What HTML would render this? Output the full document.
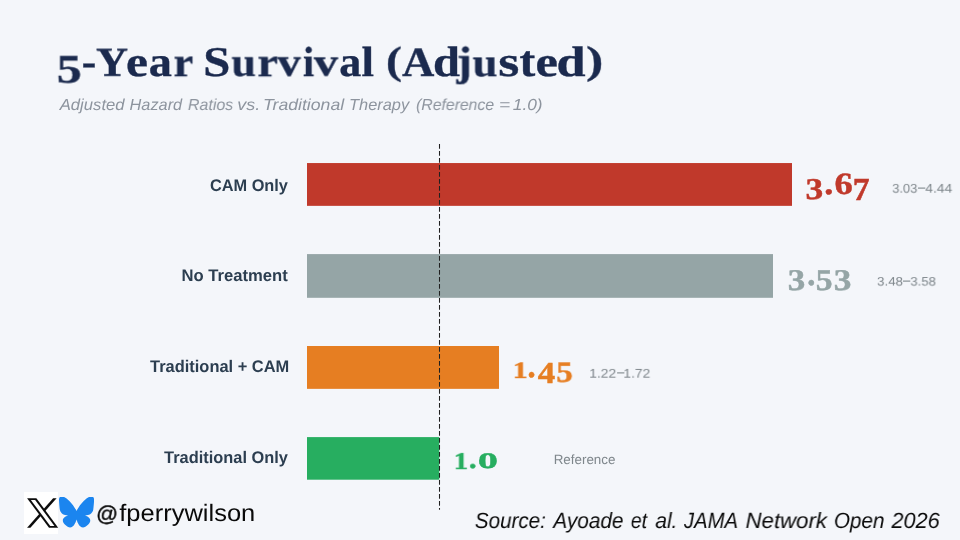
<!DOCTYPE html>
<html><head><meta charset="utf-8"><title>5-Year Survival (Adjusted)</title>
<style>
html,body{margin:0;padding:0}
body{width:960px;height:540px;overflow:hidden;background:#f4f6fa;position:relative;font-family:'Liberation Sans',sans-serif}
.t{position:absolute;white-space:pre;transform-origin:0 0;will-change:transform;text-rendering:geometricPrecision}
</style></head><body>

<div class="t" style="left:38px;top:25px;font-family:'Liberation Serif',serif;font-weight:bold;font-size:42px;line-height:42px;color:#1b2a4e;transform:translate(18.61px,24.81px) scale(1.1936,0.9628);-webkit-text-stroke:0.35px #1b2a4e">5</div>
<div class="t" style="left:62px;top:33px;font-family:'Liberation Serif',serif;font-weight:bold;font-size:42px;line-height:42px;color:#1b2a4e;transform:translate(19.68px,7.07px) scale(1.0352,1.0627);-webkit-text-stroke:0.35px #1b2a4e">-</div>
<div class="t" style="left:76px;top:18px;font-family:'Liberation Serif',serif;font-weight:bold;font-size:42px;line-height:42px;color:#1b2a4e;transform:translate(20.00px,24.53px) scale(1.0579,0.9782);-webkit-text-stroke:0.35px #1b2a4e">Y</div>
<div class="t" style="left:107px;top:25px;font-family:'Liberation Serif',serif;font-weight:bold;font-size:42px;line-height:42px;color:#1b2a4e;transform:translate(19.00px,16.15px) scale(1.1765,1.0198);-webkit-text-stroke:0.35px #1b2a4e">e</div>
<div class="t" style="left:130px;top:25px;font-family:'Liberation Serif',serif;font-weight:bold;font-size:42px;line-height:42px;color:#1b2a4e;transform:translate(18.78px,16.12px) scale(1.1025,1.0120);-webkit-text-stroke:0.35px #1b2a4e">a</div>
<div class="t" style="left:154px;top:26px;font-family:'Liberation Serif',serif;font-weight:bold;font-size:42px;line-height:42px;color:#1b2a4e;transform:translate(19.48px,16.65px) scale(1.0642,0.9835);-webkit-text-stroke:0.35px #1b2a4e">r</div>
<div class="t" style="left:185px;top:17px;font-family:'Liberation Serif',serif;font-weight:bold;font-size:42px;line-height:42px;color:#1b2a4e;transform:translate(18.33px,24.95px) scale(1.1573,1.0102);-webkit-text-stroke:0.35px #1b2a4e">S</div>
<div class="t" style="left:211px;top:26px;font-family:'Liberation Serif',serif;font-weight:bold;font-size:42px;line-height:42px;color:#1b2a4e;transform:translate(20.51px,17.32px) scale(1.0431,0.9553);-webkit-text-stroke:0.35px #1b2a4e">u</div>
<div class="t" style="left:238px;top:26px;font-family:'Liberation Serif',serif;font-weight:bold;font-size:42px;line-height:42px;color:#1b2a4e;transform:translate(19.33px,16.68px) scale(1.1104,0.9849);-webkit-text-stroke:0.35px #1b2a4e">r</div>
<div class="t" style="left:256px;top:27px;font-family:'Liberation Serif',serif;font-weight:bold;font-size:42px;line-height:42px;color:#1b2a4e;transform:translate(21.44px,16.38px) scale(1.1111,0.9504);-webkit-text-stroke:0.35px #1b2a4e">v</div>
<div class="t" style="left:283px;top:16px;font-family:'Liberation Serif',serif;font-weight:bold;font-size:42px;line-height:42px;color:#1b2a4e;transform:translate(19.94px,26.01px) scale(0.9583,1.0045);-webkit-text-stroke:0.35px #1b2a4e">i</div>
<div class="t" style="left:293px;top:27px;font-family:'Liberation Serif',serif;font-weight:bold;font-size:42px;line-height:42px;color:#1b2a4e;transform:translate(20.73px,16.91px) scale(1.1483,0.9282);-webkit-text-stroke:0.35px #1b2a4e">v</div>
<div class="t" style="left:319px;top:25px;font-family:'Liberation Serif',serif;font-weight:bold;font-size:42px;line-height:42px;color:#1b2a4e;transform:translate(20.24px,16.12px) scale(1.0487,1.0120);-webkit-text-stroke:0.35px #1b2a4e">a</div>
<div class="t" style="left:342px;top:16px;font-family:'Liberation Serif',serif;font-weight:bold;font-size:42px;line-height:42px;color:#1b2a4e;transform:translate(19.54px,26.30px) scale(1.0693,1.0055);-webkit-text-stroke:0.35px #1b2a4e">l</div>
<div class="t" style="left:367px;top:16px;font-family:'Liberation Serif',serif;font-weight:bold;font-size:42px;line-height:42px;color:#1b2a4e;transform:translate(18.93px,25.92px) scale(1.1451,0.9349);-webkit-text-stroke:0.35px #1b2a4e">(</div>
<div class="t" style="left:382px;top:18px;font-family:'Liberation Serif',serif;font-weight:bold;font-size:42px;line-height:42px;color:#1b2a4e;transform:translate(20.11px,24.32px) scale(1.0651,0.9878);-webkit-text-stroke:0.35px #1b2a4e">A</div>
<div class="t" style="left:414px;top:16px;font-family:'Liberation Serif',serif;font-weight:bold;font-size:42px;line-height:42px;color:#1b2a4e;transform:translate(18.98px,25.98px) scale(1.1548,1.0131);-webkit-text-stroke:0.35px #1b2a4e">d</div>
<div class="t" style="left:435px;top:16px;font-family:'Liberation Serif',serif;font-weight:bold;font-size:42px;line-height:42px;color:#1b2a4e;transform:translate(21.63px,25.64px) scale(1.0699,0.9926);-webkit-text-stroke:0.35px #1b2a4e">j</div>
<div class="t" style="left:452px;top:26px;font-family:'Liberation Serif',serif;font-weight:bold;font-size:42px;line-height:42px;color:#1b2a4e;transform:translate(20.64px,17.63px) scale(1.0656,0.9549);-webkit-text-stroke:0.35px #1b2a4e">u</div>
<div class="t" style="left:479px;top:25px;font-family:'Liberation Serif',serif;font-weight:bold;font-size:42px;line-height:42px;color:#1b2a4e;transform:translate(19.34px,16.27px) scale(1.2897,1.0183);-webkit-text-stroke:0.35px #1b2a4e">s</div>
<div class="t" style="left:499px;top:20px;font-family:'Liberation Serif',serif;font-weight:bold;font-size:42px;line-height:42px;color:#1b2a4e;transform:translate(20.60px,20.12px) scale(1.1255,1.0500);-webkit-text-stroke:0.35px #1b2a4e">t</div>
<div class="t" style="left:516px;top:25px;font-family:'Liberation Serif',serif;font-weight:bold;font-size:42px;line-height:42px;color:#1b2a4e;transform:translate(19.48px,16.17px) scale(1.2013,1.0170);-webkit-text-stroke:0.35px #1b2a4e">e</div>
<div class="t" style="left:538px;top:16px;font-family:'Liberation Serif',serif;font-weight:bold;font-size:42px;line-height:42px;color:#1b2a4e;transform:translate(18.46px,25.98px) scale(1.2449,1.0131);-webkit-text-stroke:0.35px #1b2a4e">d</div>
<div class="t" style="left:567px;top:16px;font-family:'Liberation Serif',serif;font-weight:bold;font-size:42px;line-height:42px;color:#1b2a4e;transform:translate(19.03px,25.57px) scale(1.2355,0.9349);-webkit-text-stroke:0.35px #1b2a4e">)</div>
<div class="t" style="left:38px;top:74px;font-family:'Liberation Sans',sans-serif;font-style:italic;font-size:16px;line-height:16px;color:#8d949e;transform:translate(21.70px,24.00px) scale(1.0415,1.0000)">Adjusted</div><div class="t" style="left:110px;top:74px;font-family:'Liberation Sans',sans-serif;font-style:italic;font-size:16px;line-height:16px;color:#8d949e;transform:translate(19.60px,24.00px) scale(1.0185,1.0000)">Hazard</div><div class="t" style="left:168px;top:74px;font-family:'Liberation Sans',sans-serif;font-style:italic;font-size:16px;line-height:16px;color:#8d949e;transform:translate(19.87px,24.00px) scale(0.9992,1.0000)">Ratios</div><div class="t" style="left:218px;top:74px;font-family:'Liberation Sans',sans-serif;font-style:italic;font-size:16px;line-height:16px;color:#8d949e;transform:translate(19.25px,24.00px) scale(1.1227,1.0000)">vs.</div><div class="t" style="left:244px;top:74px;font-family:'Liberation Sans',sans-serif;font-style:italic;font-size:16px;line-height:16px;color:#8d949e;transform:translate(19.08px,24.00px) scale(1.1028,1.0000)">Traditional</div><div class="t" style="left:330px;top:74px;font-family:'Liberation Sans',sans-serif;font-style:italic;font-size:16px;line-height:16px;color:#8d949e;transform:translate(19.08px,24.00px) scale(1.0232,1.0000)">Therapy</div><div class="t" style="left:396px;top:74px;font-family:'Liberation Sans',sans-serif;font-style:italic;font-size:16px;line-height:16px;color:#8d949e;transform:translate(20.05px,24.00px) scale(0.9859,1.0000)">(Reference</div><div class="t" style="left:480px;top:74px;font-family:'Liberation Sans',sans-serif;font-style:italic;font-size:16px;line-height:16px;color:#8d949e;transform:translate(19.09px,24.00px) scale(1.1984,1.0000)">=</div><div class="t" style="left:493px;top:74px;font-family:'Liberation Sans',sans-serif;font-style:italic;font-size:16px;line-height:16px;color:#8d949e;transform:translate(19.80px,24.00px) scale(1.0822,1.0000)">1.0)</div>
<svg style="position:absolute;left:0;top:0" width="960" height="540"><rect x="307" y="163.05" width="485.0" height="42.80" fill="#c0392b"/><rect x="307" y="254.1" width="466.0" height="43.70" fill="#95a5a6"/><rect x="307" y="346" width="192.0" height="42.85" fill="#e67e22"/><rect x="307" y="437.1" width="132.3" height="42.60" fill="#27ae60"/><line x1="439.5" y1="144" x2="439.5" y2="509.8" stroke="#202020" stroke-width="1.05" stroke-dasharray="4.8 2.2"/></svg>
<div class="t" style="left:190px;top:154px;font-family:'Liberation Sans',sans-serif;font-weight:bold;font-size:16px;line-height:16px;color:#2c3e50;transform:translate(19.88px,24.50px) scale(1.0214,1.0484)">CAM Only</div>
<div class="t" style="left:162px;top:245px;font-family:'Liberation Sans',sans-serif;font-weight:bold;font-size:16px;line-height:16px;color:#2c3e50;transform:translate(19.43px,23.80px) scale(1.0402,1.0484)">No Treatment</div>
<div class="t" style="left:130px;top:336px;font-family:'Liberation Sans',sans-serif;font-weight:bold;font-size:16px;line-height:16px;color:#2c3e50;transform:translate(20.07px,23.80px) scale(1.0265,1.0484)">Traditional + CAM</div>
<div class="t" style="left:144px;top:427px;font-family:'Liberation Sans',sans-serif;font-weight:bold;font-size:16px;line-height:16px;color:#2c3e50;transform:translate(20.10px,23.80px) scale(1.0247,1.0484)">Traditional Only</div>
<div class="t" style="left:786px;top:148px;font-family:'Liberation Serif',serif;font-weight:bold;font-size:30px;line-height:30px;color:#c0392b;transform:translate(19.51px,27.17px) scale(1.1818,1.0040);-webkit-text-stroke:0.45px #c0392b">3</div>
<div class="t" style="left:805px;top:158px;font-family:'Liberation Serif',serif;font-weight:bold;font-size:30px;line-height:30px;color:#c0392b;transform:translate(19.34px,10.25px) scale(1.2160,1.0862);-webkit-text-stroke:0.45px #c0392b">.</div>
<div class="t" style="left:815px;top:143px;font-family:'Liberation Serif',serif;font-weight:bold;font-size:30px;line-height:30px;color:#c0392b;transform:translate(19.60px,26.52px) scale(1.2150,1.0339);-webkit-text-stroke:0.45px #c0392b">6</div>
<div class="t" style="left:834px;top:148px;font-family:'Liberation Serif',serif;font-weight:bold;font-size:30px;line-height:30px;color:#c0392b;transform:translate(18.63px,26.12px) scale(1.1203,1.0738);-webkit-text-stroke:0.45px #c0392b">7</div>
<div class="t" style="left:768px;top:239px;font-family:'Liberation Serif',serif;font-weight:bold;font-size:30px;line-height:30px;color:#95a5a6;transform:translate(19.79px,26.47px) scale(1.1681,1.0021);-webkit-text-stroke:0.45px #95a5a6">3</div>
<div class="t" style="left:788px;top:249px;font-family:'Liberation Serif',serif;font-weight:bold;font-size:30px;line-height:30px;color:#95a5a6;transform:translate(19.35px,9.27px) scale(1.0830,1.1132);-webkit-text-stroke:0.45px #95a5a6">.</div>
<div class="t" style="left:796px;top:239px;font-family:'Liberation Serif',serif;font-weight:bold;font-size:30px;line-height:30px;color:#95a5a6;transform:translate(19.85px,26.38px) scale(1.1206,1.0118);-webkit-text-stroke:0.45px #95a5a6">5</div>
<div class="t" style="left:814px;top:239px;font-family:'Liberation Serif',serif;font-weight:bold;font-size:30px;line-height:30px;color:#95a5a6;transform:translate(19.66px,26.47px) scale(1.1767,1.0021);-webkit-text-stroke:0.45px #95a5a6">3</div>
<div class="t" style="left:494px;top:331px;font-family:'Liberation Serif',serif;font-weight:bold;font-size:30px;line-height:30px;color:#e67e22;transform:translate(18.72px,28.10px) scale(0.9928,0.7821);-webkit-text-stroke:0.45px #e67e22">1</div>
<div class="t" style="left:508px;top:341px;font-family:'Liberation Serif',serif;font-weight:bold;font-size:30px;line-height:30px;color:#e67e22;transform:translate(19.50px,9.25px) scale(1.0839,1.1013);-webkit-text-stroke:0.45px #e67e22">.</div>
<div class="t" style="left:517px;top:332px;font-family:'Liberation Serif',serif;font-weight:bold;font-size:30px;line-height:30px;color:#e67e22;transform:translate(20.79px,26.22px) scale(1.1614,1.0151);-webkit-text-stroke:0.45px #e67e22">4</div>
<div class="t" style="left:537px;top:332px;font-family:'Liberation Serif',serif;font-weight:bold;font-size:30px;line-height:30px;color:#e67e22;transform:translate(19.22px,26.24px) scale(1.1020,0.9769);-webkit-text-stroke:0.45px #e67e22">5</div>
<div class="t" style="left:435px;top:422px;font-family:'Liberation Serif',serif;font-weight:bold;font-size:30px;line-height:30px;color:#27ae60;transform:translate(18.77px,27.53px) scale(0.9542,0.8103);-webkit-text-stroke:0.45px #27ae60">1</div>
<div class="t" style="left:450px;top:433px;font-family:'Liberation Serif',serif;font-weight:bold;font-size:30px;line-height:30px;color:#27ae60;transform:translate(18.90px,13.93px) scale(1.0187,0.8726);-webkit-text-stroke:0.45px #27ae60">.</div>
<div class="t" style="left:458px;top:422px;font-family:'Liberation Serif',serif;font-weight:bold;font-size:30px;line-height:30px;color:#27ae60;transform:translate(19.64px,20.97px) scale(1.3504,1.0462);-webkit-text-stroke:0.45px #27ae60">o</div>
<div class="t" style="left:872px;top:160px;font-family:'Liberation Sans',sans-serif;font-size:13px;line-height:13px;color:#7f878c;transform:translate(20.21px,21.96px) scale(0.9979,0.9698)">3.03</div><div class="t" style="left:906px;top:160px;font-family:'Liberation Sans',sans-serif;font-size:13px;line-height:13px;color:#7f878c;transform:translate(19.31px,21.96px) scale(1.0667,0.9698)">4.44</div>
<svg style="position:absolute;left:0;top:0" width="960" height="540"><rect x="918" y="187.55" width="7.3" height="1.1" fill="#7f878c"/></svg>
<div class="t" style="left:857px;top:252px;font-family:'Liberation Sans',sans-serif;font-size:13px;line-height:13px;color:#7f878c;transform:translate(20.04px,23.16px) scale(1.0279,0.9413)">3.48</div><div class="t" style="left:891px;top:252px;font-family:'Liberation Sans',sans-serif;font-size:13px;line-height:13px;color:#7f878c;transform:translate(19.34px,23.16px) scale(1.0144,0.9413)">3.58</div>
<svg style="position:absolute;left:0;top:0" width="960" height="540"><rect x="903" y="280.55" width="7.3" height="1.1" fill="#7f878c"/></svg>
<div class="t" style="left:570px;top:345px;font-family:'Liberation Sans',sans-serif;font-size:13px;line-height:13px;color:#7f878c;transform:translate(19.21px,21.96px) scale(1.0666,0.9698)">1.22</div><div class="t" style="left:604px;top:345px;font-family:'Liberation Sans',sans-serif;font-size:13px;line-height:13px;color:#7f878c;transform:translate(19.36px,21.96px) scale(1.0597,0.9698)">1.72</div>
<svg style="position:absolute;left:0;top:0" width="960" height="540"><rect x="617.1" y="372.35" width="7.3" height="1.1" fill="#7f878c"/></svg>
<div class="t" style="left:534px;top:430px;font-family:'Liberation Sans',sans-serif;font-size:13px;line-height:13px;color:#7f878c;transform:translate(19.67px,22.20px) scale(1.0300,1.0303)">Reference</div>
<div style="position:absolute;left:24.4px;top:492.2px;width:34px;height:41.6px;background:#fff"></div>
<svg style="position:absolute;left:0;top:0" width="960" height="540"><polygon fill="#0c0c0c" points="53.1,498.2 56.6,498.2 30.4,527.8 27.06,527.8"/><polygon fill="#0c0c0c" points="27.1,498.2 36.4,498.2 58.2,527.8 49.0,527.8"/><polygon fill="#fff" points="30.85,499.9 35.15,499.9 54.45,526.1 50.25,526.1"/></svg>
<svg style="position:absolute;left:59.4px;top:497.3px" width="35.1" height="31" viewBox="10 19.6 580 510.7" preserveAspectRatio="none"><path fill="#1b85ef" d="m135.72 44.03c66.496 49.921 138.02 151.14 164.28 205.46 26.262-54.316 97.782-155.54 164.28-205.46 47.98-36.021 125.72-63.892 125.72 24.795 0 17.712-10.155 148.79-16.111 170.07-20.703 73.984-96.144 92.854-163.25 81.433 117.3 19.964 147.14 86.092 82.697 152.22-122.39 125.59-175.91-31.511-189.63-71.766-2.514-7.3797-3.6904-10.832-3.7077-7.8964-0.0174-2.9357-1.1937 0.51669-3.7077 7.8964-13.714 40.255-67.233 197.36-189.63 71.766-64.444-66.128-34.605-132.26 82.697-152.22-67.108 11.421-142.55-7.4491-163.25-81.433-5.9562-21.282-16.111-152.36-16.111-170.07 0-88.687 77.742-60.816 125.72-24.795z"/></svg>
<div class="t" style="left:77px;top:475px;font-family:'Liberation Sans',sans-serif;font-size:23px;line-height:23px;color:#0a0a0a;transform:translate(19.14px,28.25px) scale(0.9343,0.9342);-webkit-text-stroke:0.45px #0a0a0a">@</div>
<div class="t" style="left:99px;top:478px;font-family:'Liberation Sans',sans-serif;font-size:23px;line-height:23px;color:#0a0a0a;transform:translate(20.23px,23.50px) scale(1.1087,1.0335)">fperrywilson</div>
<div class="t" style="left:455px;top:486px;font-family:'Liberation Sans',sans-serif;font-style:italic;font-size:22px;line-height:22px;color:#0a0a0a;transform:translate(19.81px,24.00px) scale(0.9364,0.9997)">Source:</div><div class="t" style="left:532px;top:486px;font-family:'Liberation Sans',sans-serif;font-style:italic;font-size:22px;line-height:22px;color:#0a0a0a;transform:translate(21.27px,24.00px) scale(0.9423,0.9997)">Ayoade</div><div class="t" style="left:611px;top:486px;font-family:'Liberation Sans',sans-serif;font-style:italic;font-size:22px;line-height:22px;color:#0a0a0a;transform:translate(19.85px,24.00px) scale(0.8821,0.9997)">et</div><div class="t" style="left:635px;top:486px;font-family:'Liberation Sans',sans-serif;font-style:italic;font-size:22px;line-height:22px;color:#0a0a0a;transform:translate(20.24px,24.00px) scale(0.9569,0.9997)">al.</div><div class="t" style="left:663px;top:486px;font-family:'Liberation Sans',sans-serif;font-style:italic;font-size:22px;line-height:22px;color:#0a0a0a;transform:translate(20.93px,24.00px) scale(0.9205,0.9997)">JAMA</div><div class="t" style="left:726px;top:486px;font-family:'Liberation Sans',sans-serif;font-style:italic;font-size:22px;line-height:22px;color:#0a0a0a;transform:translate(19.54px,24.00px) scale(1.0092,0.9997)">Network</div><div class="t" style="left:814px;top:486px;font-family:'Liberation Sans',sans-serif;font-style:italic;font-size:22px;line-height:22px;color:#0a0a0a;transform:translate(19.86px,24.00px) scale(0.9419,0.9997)">Open</div><div class="t" style="left:871px;top:486px;font-family:'Liberation Sans',sans-serif;font-style:italic;font-size:22px;line-height:22px;color:#0a0a0a;transform:translate(20.49px,24.00px) scale(0.9829,0.9997)">2026</div>
</body></html>
